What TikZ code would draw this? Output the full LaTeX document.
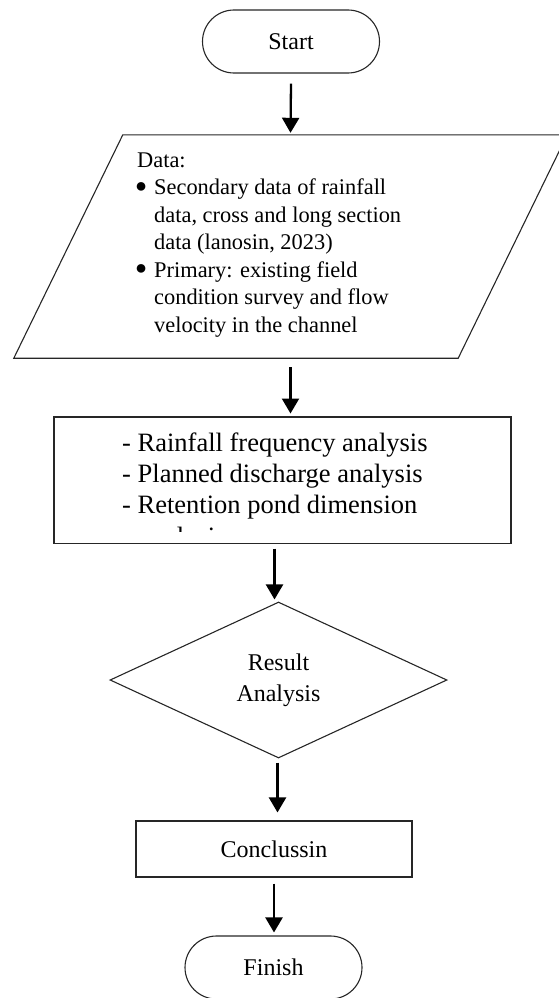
\documentclass[tikz,border=0pt]{standalone}
\usepackage{fontspec}
\setmainfont{Liberation Serif}
\usetikzlibrary{shapes.geometric,arrows.meta,calc}

\newcommand{\listdot}{\llap{\raisebox{2.5pt}{\fontsize{20}{20}\selectfont ●}\hspace{7pt}}}

\begin{document}
\begin{tikzpicture}[x=1pt,y=-1pt,
  outline/.style={draw=black!85, line width=1.1pt},
  terminal/.style={outline, rectangle, rounded corners=31.5pt,
    minimum width=177pt, minimum height=63pt, inner sep=0pt,
    font=\fontsize{24}{27.6}\selectfont},
  procbox/.style={outline, rectangle, inner sep=0pt},
  iofield/.style={rectangle, inner sep=0pt, minimum width=553pt, minimum height=223pt},
  decide/.style={outline, diamond, minimum width=337pt, minimum height=156pt,
    inner sep=0pt, align=center, font=\fontsize{24}{31}\selectfont},
  dataline/.style={anchor=base west, inner sep=0pt,
    font=\fontsize{22.4}{27.5}\selectfont},
  stepline/.style={anchor=base west, inner sep=0pt,
    font=\fontsize{26.5}{30.5}\selectfont},
  arr/.style={line width=2.3pt, -{Triangle[width=17pt,length=15pt]}}
]
\useasboundingbox (0,0) rectangle (558,998);

% start terminal
\node[terminal] (start) at (291,41.5) {Start};

% data input: parallelogram slanted by 109pt over its height
\node[iofield] (data) at (290.5,246.5) {};
\draw[outline] (data.south west) -- ($(data.north west)+(109,0)$)
  -- (data.north east) -- ($(data.south east)+(-109,0)$) -- cycle;
\node[dataline] (d1) at (137,167) {Data:};
\node[dataline] (d2) at (154,194.5) {\listdot Secondary data of rainfall};
\node[dataline] (d3) at (154,222) {data, cross and long section};
\node[dataline] (d4) at (154,249.5) {data (lanosin, 2023)};
\node[dataline] (d5) at (154,277) {\listdot Primary: existing field};
\node[dataline] (d6) at (154,304.5) {condition survey and flow};
\node[dataline] (d7) at (154,332) {velocity in the channel};

% analysis steps (text box clips its last line)
\node[procbox, anchor=north west, minimum width=456pt, minimum height=126pt]
  (steps) at (54,416.5) {};
\begin{scope}
  \clip (steps.north west) rectangle ([yshift=12pt]steps.south east);
  \node[stepline] (s1) at (122,451) {- Rainfall frequency analysis};
  \node[stepline] (s2) at (122,482) {- Planned discharge analysis};
  \node[stepline] (s3) at (122,513) {- Retention pond dimension};
  \node[stepline] (s4) at (140,545) {analysis};
\end{scope}
\draw[outline] (steps.north west) rectangle (steps.south east);

% decision
\node[decide] (result) at (278.5,680) {Result\\Analysis};

% conclusion
\node[procbox, minimum width=276pt, minimum height=56pt,
  font=\fontsize{24}{27.6}\selectfont] (conc) at (274,849) {Conclussin};

% finish terminal
\node[terminal] (finish) at (273.5,967.5) {Finish};

% connectors
\draw[arr] ([yshift=-10pt]start.south) -- ([yshift=2pt]data.north);
\draw[arr] ([yshift=-9pt]data.south) -- ([yshift=3pt]data.south |- steps.north);
\draw[arr] ([xshift=-4pt,yshift=-5pt]result.north |- steps.south)
  -- ([xshift=-4pt,yshift=2pt]result.north);
\draw[arr] ([xshift=-1pt,yshift=-4pt]result.south)
  -- ([xshift=-1pt,yshift=8pt]result.south |- conc.north);
\draw[arr] ([yshift=-6pt]conc.south) -- ([yshift=3pt]conc.south |- finish.north);
\end{tikzpicture}
\end{document}
